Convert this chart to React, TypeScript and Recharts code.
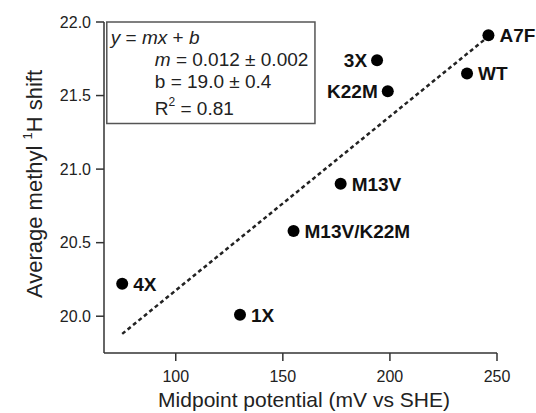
import {
  ScatterChart, Scatter, XAxis, YAxis, ReferenceLine, ReferenceArea,
} from 'recharts';

// mutant names, midpoint potential (mV vs SHE), avg methyl 1H shift
const mutants = ['A7F', 'WT', '3X', 'K22M', 'M13V', 'M13V/K22M', '4X', '1X'];
const potentials = [246, 236, 194, 199, 177, 155, 75, 130];
const shifts = [21.91, 21.65, 21.74, 21.53, 20.9, 20.58, 20.22, 20.01];
const labelSides = ['right', 'right', 'left', 'left', 'right', 'right', 'right', 'right'];

const xTicks = [100, 150, 200, 250];
const yTicks = [20.0, 20.5, 21.0, 21.5, 22.0];

// dashed fit line y = mx + b, drawn between its two end points
const fitStart = { x: 75, y: 19.88 };
const fitEnd = { x: 245, y: 21.89 };

// corners of the fit-result box, in data units
const boxX = [67.8, 165];
const boxY = [21.31, 22.0];

const FONT = '"Liberation Sans", Arial, Helvetica, sans-serif';
const INK = '#222';
const AXIS = '#333';

const points = mutants.map((name, i) => ({
  name, x: potentials[i], y: shifts[i], side: labelSides[i],
}));

// eslint-disable-next-line @typescript-eslint/no-explicit-any
function Dot(props: any) {
  const { cx, cy, payload } = props;
  const left = payload.side === 'left';
  return (
    <g>
      <circle cx={cx} cy={cy} r={6} fill="#000" />
      <text
        x={left ? cx - 10 : cx + 11} y={cy} dy="0.36em"
        textAnchor={left ? 'end' : 'start'}
        fontFamily={FONT} fontWeight="bold" fontSize={19} fill="#111"
      >
        {payload.name}
      </text>
    </g>
  );
}

// eslint-disable-next-line @typescript-eslint/no-explicit-any
function FitBox(props: any) {
  const { x, y, width, height } = props;
  const ind = x + 48;
  return (
    <g fontFamily={FONT} fontSize={19} fill={INK}>
      <rect x={x} y={y} width={width} height={height} fill="none" stroke="#555" strokeWidth={1.5} />
      <text x={x + 4} y={y + 22}>
        <tspan fontStyle="italic">y</tspan> = <tspan fontStyle="italic">mx</tspan> + <tspan fontStyle="italic">b</tspan>
      </text>
      <text x={ind} y={y + 44}>
        <tspan fontStyle="italic">m</tspan> = 0.012 ± 0.002
      </text>
      <text x={ind} y={y + 66}>b  = 19.0 ± 0.4</text>
      <text x={ind} y={y + 93}>
        R<tspan fontSize={12} dy={-9}>2</tspan><tspan dy={9}> = 0.81</tspan>
      </text>
    </g>
  );
}

export default function App() {
  return (
    <div style={{ position: 'absolute', left: 0, top: 0, width: 536, height: 413, background: '#fff' }}>
      <ScatterChart width={536} height={413} margin={{ top: 22, right: 39, bottom: 10, left: 44 }}>
        <XAxis
          type="number" dataKey="x" domain={[66.5, 250]} ticks={xTicks}
          height={50}
          tickSize={8} tickMargin={10}
          stroke={AXIS} strokeWidth={1.5}
          tick={{ fontSize: 16, fill: INK, fontFamily: FONT }}
          label={{
            position: 'insideBottom',
            content: () => (
              <text
                x={304} y={407} textAnchor="middle"
                fontFamily={FONT} fontSize={21} fill={INK}
              >
                Midpoint potential (mV vs SHE)
              </text>
            ),
          }}
        />
        <YAxis
          type="number" dataKey="y" domain={[19.75, 22]} ticks={yTicks}
          width={60}
          tickSize={8} tickMargin={5}
          stroke={AXIS} strokeWidth={1.5}
          tickFormatter={(v: number) => v.toFixed(1)}
          tick={{ fontSize: 16, fill: INK, fontFamily: FONT }}
          label={{
            position: 'insideLeft',
            content: () => (
              <text
                x={42} y={184} transform="rotate(-90 42 184)" textAnchor="middle"
                fontFamily={FONT} fontSize={22} fill={INK}
              >
                Average methyl <tspan fontSize={13} dy={-10}>1</tspan><tspan dy={10}>H shift</tspan>
              </text>
            ),
          }}
        />
        <ReferenceArea
          x1={boxX[0]} x2={boxX[1]} y1={boxY[0]} y2={boxY[1]}
          ifOverflow="visible" shape={FitBox}
        />
        <ReferenceLine
          segment={[fitStart, fitEnd]}
          stroke="#222" strokeWidth={2.5} strokeDasharray="4 3"
          ifOverflow="visible"
        />
        <Scatter data={points} shape={Dot} isAnimationActive={false} />
      </ScatterChart>
    </div>
  );
}
